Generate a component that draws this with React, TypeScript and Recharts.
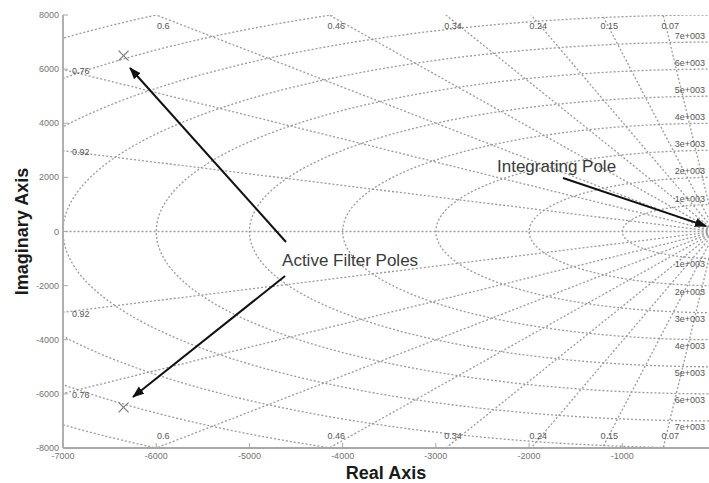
import React from 'react';
import { ComposedChart, Line, XAxis, YAxis, Scatter, ReferenceLine, Label } from 'recharts';

// ---- data ----
const X_DOMAIN = [-7000, -70];
const Y_DOMAIN = [-8000, 8000];
const X_TICKS = [-7000, -6000, -5000, -4000, -3000, -2000, -1000];
const Y_TICKS = [-8000, -6000, -4000, -2000, 0, 2000, 4000, 6000, 8000];

const DAMPING = [0.07, 0.15, 0.24, 0.34, 0.46, 0.6, 0.76, 0.92];
const DAMPING_LABELS = ['0.07', '0.15', '0.24', '0.34', '0.46', '0.6', '0.76', '0.92'];
const NAT_FREQ = [1000, 2000, 3000, 4000, 5000, 6000, 7000, 8000, 9000, 10000];
const NAT_FREQ_LABELS = ['1e+003', '2e+003', '3e+003', '4e+003', '5e+003', '6e+003', '7e+003'];

const POLES = [
  { x: -6350, y: 6500 },
  { x: -6350, y: -6500 },
];

const ARROWS = [
  { from: { x: -4608, y: -388 }, to: { x: -6281, y: 6042 } },
  { from: { x: -4618, y: -1644 }, to: { x: -6249, y: -6115 } },
  { from: { x: -1636, y: 1977 }, to: { x: -100, y: 200 } },
];

const ANNOTATIONS = [
  { x: -4650, y: -1274, text: 'Active Filter Poles' },
  { x: -2344, y: 2199, text: 'Integrating Pole' },
];

// ---- derived grid geometry ----
const RAY_LEN = 14000;
const rays: { x: number; y: number }[][] = [];
[...DAMPING, 1].forEach((z) => {
  const s = Math.sqrt(1 - z * z);
  rays.push([{ x: 0, y: 0 }, { x: -RAY_LEN * z, y: RAY_LEN * s }]);
  if (z < 1) rays.push([{ x: 0, y: 0 }, { x: -RAY_LEN * z, y: -RAY_LEN * s }]);
});

const circles = NAT_FREQ.map((wn) => {
  const pts: { x: number; y: number }[] = [];
  for (let a = 90; a <= 270; a += 1.5) {
    const r = (a * Math.PI) / 180;
    pts.push({ x: wn * Math.cos(r), y: wn * Math.sin(r) });
  }
  return pts;
});

const dampingLabelPts: any[] = [];
DAMPING.forEach((z, i) => {
  const t = Math.sqrt(1 - z * z) / z;
  const top = Y_DOMAIN[1];
  const xTop = -top / t;
  if (xTop >= X_DOMAIN[0]) {
    dampingLabelPts.push({ x: xTop, y: top, pos: 'top', text: DAMPING_LABELS[i] });
    dampingLabelPts.push({ x: xTop, y: -top, pos: 'bottom', text: DAMPING_LABELS[i] });
  } else {
    const yl = -X_DOMAIN[0] * t;
    dampingLabelPts.push({ x: X_DOMAIN[0], y: yl, pos: 'left', text: DAMPING_LABELS[i] });
    dampingLabelPts.push({ x: X_DOMAIN[0], y: -yl, pos: 'left', text: DAMPING_LABELS[i] });
  }
});

const freqLabelPts: any[] = [];
NAT_FREQ_LABELS.forEach((lab, i) => {
  const wn = NAT_FREQ[i];
  const xr = X_DOMAIN[1];
  const y = Math.sqrt(wn * wn - xr * xr);
  freqLabelPts.push({ x: xr, y, pos: 'up', text: lab });
  freqLabelPts.push({ x: xr, y: -y, pos: 'down', text: lab });
});

// ---- styles ----
const FONT = '"Liberation Sans", Arial, Helvetica, sans-serif';
const GRID = '#9a9a9a';
const AXIS = '#a8a8a8';
const TICK_TEXT = '#757575';

const XTick = (p: any) => (
  <g>
    <line x1={p.x} y1={p.y} x2={p.x} y2={p.y - 5} stroke={AXIS} strokeWidth={1} />
    <text x={p.x} y={p.y + 11} textAnchor="middle" fontSize={9} fontFamily={FONT} fill={TICK_TEXT}>
      {p.payload.value}
    </text>
  </g>
);
const TopTick = (p: any) => (
  <line x1={p.x} y1={p.y} x2={p.x} y2={p.y + 5} stroke={AXIS} strokeWidth={1} />
);
const YTick = (p: any) => (
  <g>
    <line x1={p.x} y1={p.y} x2={p.x + 5} y2={p.y} stroke={AXIS} strokeWidth={1} />
    <text x={p.x - 4} y={p.y + 3} textAnchor="end" fontSize={9} fontFamily={FONT} fill={TICK_TEXT}>
      {p.payload.value}
    </text>
  </g>
);

const DampLabel = (p: any) => {
  const { cx, cy, payload } = p;
  let x = cx, y = cy, anchor = 'middle';
  if (payload.pos === 'top') { x = cx + 7; y = cy + 14; }
  else if (payload.pos === 'bottom') { x = cx + 7; y = cy - 9; }
  else { x = cx + 9; y = cy + 4.5; anchor = 'start'; }
  return (
    <text x={x} y={y} textAnchor={anchor} fontSize={9} fontFamily={FONT} fill="#555">
      {payload.text}
    </text>
  );
};

const FreqLabel = (p: any) => {
  const { cx, cy, payload } = p;
  const y = payload.pos === 'up' ? cy - 3 : cy + 9;
  return (
    <text x={cx - 4} y={y} textAnchor="end" fontSize={9} fontFamily={FONT} fill="#555">
      {payload.text}
    </text>
  );
};

const PoleMark = (p: any) => {
  const { cx, cy } = p;
  const d = 5;
  return (
    <g stroke="#808080" strokeWidth={1.3}>
      <line x1={cx - d} y1={cy - d} x2={cx + d} y2={cy + d} />
      <line x1={cx - d} y1={cy + d} x2={cx + d} y2={cy - d} />
    </g>
  );
};

const AnnotText = (p: any) => (
  <text x={p.cx} y={p.cy} fontSize={17} fontFamily={FONT} fill="#3a3a3a">
    {p.payload.text}
  </text>
);

const ArrowShape = (p: any) => (
  <line x1={p.x1} y1={p.y1} x2={p.x2} y2={p.y2} stroke="#111" strokeWidth={2} markerEnd="url(#arrowHead)" />
);

const YTitle = (p: any) => {
  const vb = p.viewBox || { x: 0, y: 15, width: 63, height: 433 };
  const cx = vb.x + 28;
  const cy = vb.y + vb.height / 2;
  return (
    <text x={cx} y={cy} transform={`rotate(-90, ${cx}, ${cy})`} textAnchor="middle" fontSize={18}
      fontWeight="bold" fontFamily={FONT} fill="#1a1a1a">
      Imaginary Axis
    </text>
  );
};
const XTitle = (p: any) => {
  const vb = p.viewBox || { x: 63, y: 448, width: 646, height: 35 };
  return (
    <text x={vb.x + vb.width / 2} y={479} textAnchor="middle" fontSize={18} fontWeight="bold"
      fontFamily={FONT} fill="#1a1a1a">
      Real Axis
    </text>
  );
};

export default function App() {
  return (
    <div style={{ position: 'absolute', left: 0, top: 0, width: 709, height: 483, background: '#fff', overflow: 'hidden' }}>
      <svg width={0} height={0} style={{ position: 'absolute' }}>
        <defs>
          <marker id="arrowHead" markerUnits="userSpaceOnUse" markerWidth={14} markerHeight={10}
            refX={11} refY={4.5} orient="auto">
            <path d="M0,0 L12,4.5 L0,9 z" fill="#111" />
          </marker>
        </defs>
      </svg>
      <ComposedChart width={709} height={483} margin={{ top: 15, right: 0, bottom: 0, left: 0 }}>
        <XAxis type="number" dataKey="x" domain={X_DOMAIN} ticks={X_TICKS} allowDataOverflow
          height={35} tickSize={0} tickMargin={0} tickLine={false} tick={<XTick />}
          axisLine={{ stroke: AXIS, strokeWidth: 1.8 }} interval={0}>
          <Label content={<XTitle />} />
        </XAxis>
        <XAxis xAxisId="top" orientation="top" type="number" dataKey="x" domain={X_DOMAIN} ticks={X_TICKS}
          allowDataOverflow height={0} tickSize={0} tickMargin={0} tickLine={false} tick={<TopTick />}
          axisLine={{ stroke: AXIS, strokeWidth: 1.8 }} interval={0} />
        <YAxis type="number" dataKey="y" domain={Y_DOMAIN} ticks={Y_TICKS} allowDataOverflow
          width={63} tickSize={0} tickMargin={0} tickLine={false} tick={<YTick />}
          axisLine={{ stroke: AXIS, strokeWidth: 1.8 }} interval={0}>
          <Label content={<YTitle />} />
        </YAxis>

        {circles.map((pts, i) => (
          <Line key={'c' + i} data={pts} dataKey="y" type="linear" stroke={GRID} strokeWidth={1.3}
            strokeDasharray="2 2" dot={false} activeDot={false} isAnimationActive={false} />
        ))}
        {rays.map((pts, i) => (
          <Line key={'r' + i} data={pts} dataKey="y" type="linear" stroke={GRID} strokeWidth={1.3}
            strokeDasharray="2 2" dot={false} activeDot={false} isAnimationActive={false} />
        ))}

        <Scatter data={dampingLabelPts} shape={<DampLabel />} isAnimationActive={false} />
        <Scatter data={freqLabelPts} shape={<FreqLabel />} isAnimationActive={false} />
        <Scatter data={POLES} shape={<PoleMark />} isAnimationActive={false} />

        {ARROWS.map((a, i) => (
          <ReferenceLine key={'a' + i} segment={[a.from, a.to]} ifOverflow="visible" shape={ArrowShape} />
        ))}
        <Scatter data={ANNOTATIONS} shape={<AnnotText />} isAnimationActive={false} />
      </ComposedChart>
    </div>
  );
}
